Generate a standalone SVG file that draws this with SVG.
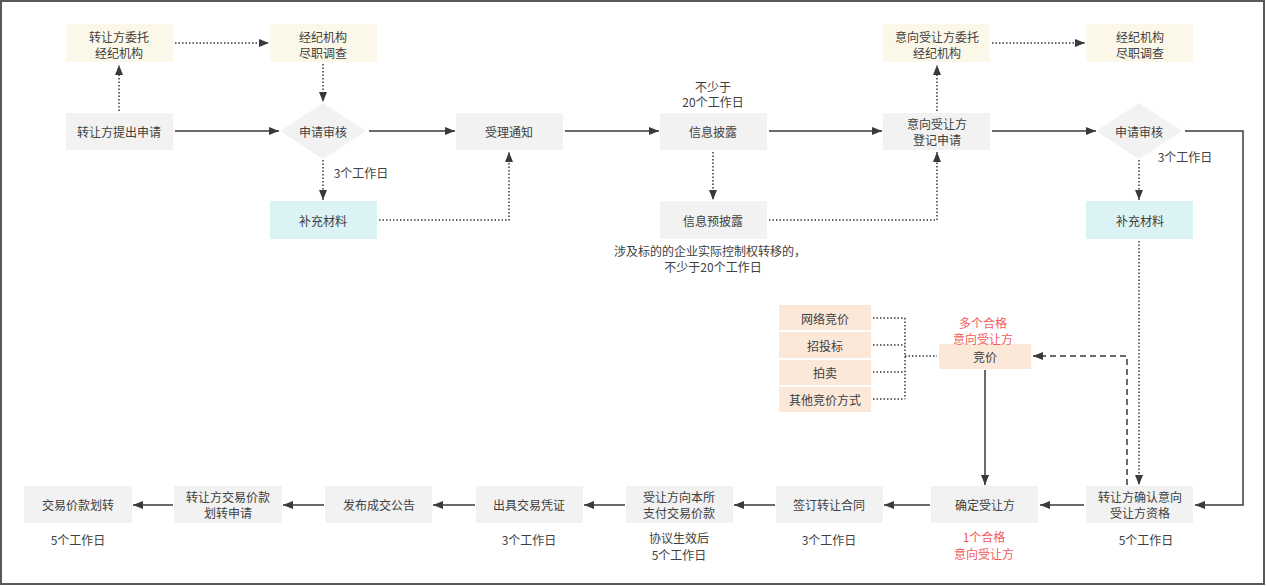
<svg xmlns="http://www.w3.org/2000/svg" width="1266" height="586" viewBox="0 0 1266 586">
<style>
text{font-family:"Noto Sans CJK SC","Noto Sans",sans-serif;font-size:12px;fill:#404040;text-anchor:middle;dominant-baseline:central}
.red{fill:#f25a5a}
.g{fill:#f2f2f2}
.y{fill:#fcf8e9}
.c{fill:#dbf3f4}
.p{fill:#fbe8d9}
.s{fill:none;stroke:#3a3a3a;stroke-width:1.5}
.d{fill:none;stroke:#3a3a3a;stroke-width:1.5;stroke-dasharray:1.5 2}
.da{fill:none;stroke:#3a3a3a;stroke-width:1.5;stroke-dasharray:6 4}
</style>
<defs>
<marker id="a" markerWidth="10" markerHeight="8" refX="10" refY="4" orient="auto" markerUnits="userSpaceOnUse">
<path d="M0,0 L10,4 L0,8 z" fill="#3a3a3a"/>
</marker>
</defs>
<rect x="1" y="1" width="1263" height="583" fill="#fff" stroke="#595959" stroke-width="2"/>

<g id="connectors">
<path class="s" d="M175,131 H279" marker-end="url(#a)"/>
<path class="s" d="M369,131 H455" marker-end="url(#a)"/>
<path class="s" d="M565,131 H659" marker-end="url(#a)"/>
<path class="s" d="M769,131 H882" marker-end="url(#a)"/>
<path class="s" d="M992,131 H1096" marker-end="url(#a)"/>
<path class="s" d="M1185,131 H1243 V505 H1195" marker-end="url(#a)"/>
<path class="d" d="M119,111 V65" marker-end="url(#a)"/>
<path class="d" d="M175,43 H269" marker-end="url(#a)"/>
<path class="d" d="M323,64 V102" marker-end="url(#a)"/>
<path class="d" d="M323,160 V200" marker-end="url(#a)"/>
<path class="d" d="M379,220 H509 V152" marker-end="url(#a)"/>
<path class="d" d="M713,152 V200" marker-end="url(#a)"/>
<path class="d" d="M769,220 H937 V152" marker-end="url(#a)"/>
<path class="d" d="M937,111 V65" marker-end="url(#a)"/>
<path class="d" d="M992,43 H1085" marker-end="url(#a)"/>
<path class="d" d="M1139,160 V200" marker-end="url(#a)"/>
<path class="d" d="M1139,241 V485" marker-end="url(#a)"/>
<path class="da" d="M1127,485 V356 H1033" marker-end="url(#a)"/>
<path class="s" d="M985,370 V485" marker-end="url(#a)"/>
<path class="d" d="M873,318 H905 M873,345 H905 M873,372 H905 M873,399 H905 M905,318 V399 M905,356 H937"/>
<path class="s" d="M1084,505 H1040" marker-end="url(#a)"/>
<path class="s" d="M930,505 H884" marker-end="url(#a)"/>
<path class="s" d="M775,505 H734" marker-end="url(#a)"/>
<path class="s" d="M625,505 H584" marker-end="url(#a)"/>
<path class="s" d="M475,505 H433" marker-end="url(#a)"/>
<path class="s" d="M324,505 H283" marker-end="url(#a)"/>
<path class="s" d="M173,505 H133" marker-end="url(#a)"/>
</g>

<g id="n1"><rect class="y" x="66" y="24" width="107" height="38"/><text x="119" y="36">转让方委托</text><text x="119" y="52">经纪机构</text></g>
<g id="n2"><rect class="y" x="270" y="24" width="107" height="38"/><text x="323" y="36">经纪机构</text><text x="323" y="52">尽职调查</text></g>
<g id="n3"><rect class="g" x="66" y="113" width="107" height="37"/><text x="119" y="131">转让方提出申请</text></g>
<g id="n4"><path class="g" d="M323,103 L366,131 L323,159 L280,131 Z"/><text x="323" y="131">申请审核</text></g>
<g id="n5"><rect class="c" x="270" y="201" width="107" height="38"/><text x="323" y="220">补充材料</text></g>
<text x="361" y="172">3个工作日</text>
<g id="n6"><rect class="g" x="456" y="113" width="107" height="37"/><text x="509" y="131">受理通知</text></g>
<g id="n7"><rect class="g" x="660" y="113" width="107" height="37"/><text x="713" y="131">信息披露</text></g>
<text x="713" y="86">不少于</text><text x="713" y="101">20个工作日</text>
<g id="n8"><rect class="g" x="660" y="201" width="107" height="38"/><text x="713" y="220">信息预披露</text></g>
<text x="710" y="250">涉及标的的企业实际控制权转移的，</text><text x="713" y="266">不少于20个工作日</text>
<g id="n9"><rect class="y" x="883" y="24" width="107" height="38"/><text x="937" y="36">意向受让方委托</text><text x="937" y="52">经纪机构</text></g>
<g id="n10"><rect class="y" x="1086" y="24" width="107" height="38"/><text x="1140" y="36">经纪机构</text><text x="1140" y="52">尽职调查</text></g>
<g id="n11"><rect class="g" x="883" y="113" width="107" height="37"/><text x="937" y="123">意向受让方</text><text x="937" y="139">登记申请</text></g>
<g id="n12"><path class="g" d="M1139,103 L1182,131 L1139,159 L1096,131 Z"/><text x="1139" y="131">申请审核</text></g>
<text x="1185" y="156">3个工作日</text>
<g id="n13"><rect class="c" x="1086" y="201" width="107" height="38"/><text x="1140" y="220">补充材料</text></g>
<g id="n14"><rect class="p" x="779" y="305" width="92" height="25"/><text x="825" y="318">网络竞价</text></g>
<g id="n15"><rect class="p" x="779" y="332" width="92" height="26"/><text x="825" y="345">招投标</text></g>
<g id="n16"><rect class="p" x="779" y="360" width="92" height="25"/><text x="825" y="372">拍卖</text></g>
<g id="n17"><rect class="p" x="779" y="387" width="92" height="25"/><text x="825" y="399">其他竞价方式</text></g>
<g id="n18"><rect class="p" x="939" y="344" width="92" height="25"/><text x="985" y="356">竞价</text></g>
<text class="red" x="983" y="322">多个合格</text><text class="red" x="983" y="338">意向受让方</text>
<g id="n19"><rect class="g" x="1086" y="486" width="107" height="37"/><text x="1140" y="496">转让方确认意向</text><text x="1140" y="512">受让方资格</text></g>
<text x="1146" y="539">5个工作日</text>
<g id="n20"><rect class="g" x="931" y="486" width="107" height="37"/><text x="985" y="504">确定受让方</text></g>
<text class="red" x="984" y="536">1个合格</text><text class="red" x="984" y="553">意向受让方</text>
<g id="n21"><rect class="g" x="776" y="486" width="107" height="37"/><text x="829" y="504">签订转让合同</text></g>
<text x="829" y="539">3个工作日</text>
<g id="n22"><rect class="g" x="626" y="486" width="107" height="37"/><text x="679" y="496">受让方向本所</text><text x="679" y="512">支付交易价款</text></g>
<text x="679" y="537">协议生效后</text><text x="679" y="554">5个工作日</text>
<g id="n23"><rect class="g" x="476" y="486" width="107" height="37"/><text x="529" y="504">出具交易凭证</text></g>
<text x="529" y="539">3个工作日</text>
<g id="n24"><rect class="g" x="325" y="486" width="107" height="37"/><text x="379" y="504">发布成交公告</text></g>
<g id="n25"><rect class="g" x="174" y="486" width="108" height="37"/><text x="228" y="496">转让方交易价款</text><text x="228" y="512">划转申请</text></g>
<g id="n26"><rect class="g" x="24" y="486" width="108" height="37"/><text x="78" y="504">交易价款划转</text></g>
<text x="78" y="539">5个工作日</text>
</svg>
